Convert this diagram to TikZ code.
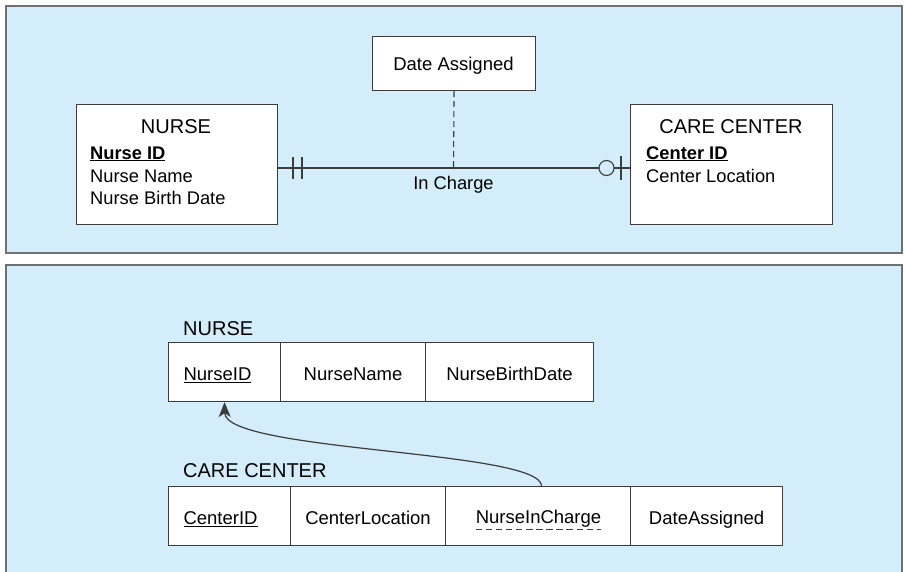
\documentclass[tikz,border=0pt]{standalone}
\usepackage{fontspec}
\setmainfont{Liberation Sans}
\usetikzlibrary{arrows.meta}
\definecolor{panelblue}{HTML}{D3EEFA}
\definecolor{panelline}{HTML}{6E7275}
\definecolor{boxline}{HTML}{3C3C3C}
\begin{document}
\begin{tikzpicture}[x=1pt,y=-1pt,
  panel/.style={fill=panelblue,draw=panelline,line width=1.6pt},
  entity/.style={draw=boxline,fill=white,line width=1.1pt,minimum height=#1,inner sep=0pt},
  attr/.style={anchor=base west,inner sep=0pt,font=\fontsize{18.3}{20}\selectfont},
  title/.style={anchor=base,inner sep=0pt,font=\fontsize{20}{22}\selectfont},
  plain/.style={anchor=base,inner sep=0pt,font=\fontsize{18.5}{20}\selectfont},
  cell/.style={draw=boxline,fill=white,line width=1.1pt,minimum height=59pt,inner sep=0pt,text height=17pt,text depth=0pt,anchor=north west,font=\fontsize{18.5}{20}\selectfont},
  conn/.style={draw=boxline,line width=1.1pt}
]
\useasboundingbox (0,0) rectangle (905,571);
\clip (0,0) rectangle (905,571);
% panels
\draw[panel] (6,6) rectangle (902,253);
\draw[panel] (6,265) rectangle (902,590);

% top ER diagram
\node[entity=120pt,minimum width=201pt,anchor=north west] (nurse) at (76,104) {};
\node[entity=120pt,minimum width=202pt,anchor=north west] (care) at (630,104) {};
\node[entity=54pt,minimum width=163pt,anchor=north west] (date) at (372,36) {};
\node[plain] (datet) at (453.5,70) {Date Assigned};

\node[title] (nt) at (176,133) {NURSE};
\node[attr] (n1) at (90,159) {\underline{\textbf{Nurse ID}}};
\node[attr] (n2) at (90,182) {Nurse Name};
\node[attr] (n3) at (90,204) {Nurse Birth Date};

\node[title] (ct) at (731,133) {CARE CENTER};
\node[attr] (c1) at (646,159) {\underline{\textbf{Center ID}}};
\node[attr] (c2) at (646,182) {Center Location};

\draw[conn] (nurse.east |- 0,168) coordinate (rl) -- (care.west |- 0,168) coordinate (rr);
\coordinate (mid) at (453.5,168);
\draw[conn,dash pattern=on 6pt off 4pt] (date.south) -- (mid);
\node[plain,font=\fontsize{18.3}{20}\selectfont] (ic) at (453.5,189) {In Charge};
% cardinality marks
\draw[conn] (293,157) -- (293,179);
\draw[conn] (302,157) -- (302,179);
\draw[conn,fill=panelblue] (606.5,168) circle (7.5pt);
\draw[conn] (621,156) -- (621,180);

% bottom relational schema
\node[title,anchor=base west] (tn) at (183,335) {NURSE};
\node[cell,minimum width=112pt,text width=82pt,align=left] (nid) at (168,342) {\underline{NurseID}};
\node[cell,minimum width=145pt] (nname) at (280,342) {NurseName};
\node[cell,minimum width=168pt] (nbd) at (425,342) {NurseBirthDate};

\node[title,anchor=base west] (tc) at (183,477) {CARE CENTER};
\node[cell,minimum width=122pt,text width=92pt,align=left] (cid) at (168,486) {\underline{CenterID}};
\node[cell,minimum width=155pt] (cloc) at (290,486) {CenterLocation};
\node[cell,minimum width=185pt] (nic) at (445,486) {};
\node[plain] (nict) at (538.5,523) {NurseInCharge};
\draw[boxline,line width=0.9pt,dash pattern=on 6.5pt off 3.6pt] ([yshift=-6.5pt]nict.base west) -- ([yshift=-6.5pt]nict.base east);
\node[cell,minimum width=152pt] (cda) at (630,486) {DateAssigned};

\draw[boxline,line width=1.2pt,-{Stealth[length=15pt,width=12pt,inset=4pt]}]
  ([xshift=3.5pt]nic.north) .. controls (541,450) and (225,452) .. (nid.south);
\end{tikzpicture}
\end{document}
